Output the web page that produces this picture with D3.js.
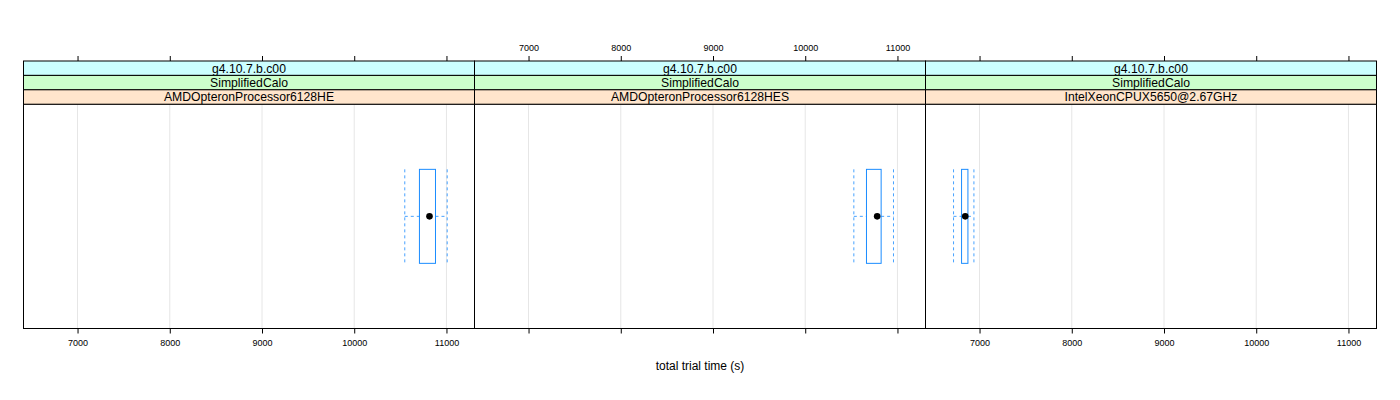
<!DOCTYPE html>
<html><head><meta charset="utf-8">
<script src="https://cdn.jsdelivr.net/npm/d3@7"></script>
<style>body{margin:0;background:#fff}svg{display:block;font-family:"Liberation Sans",Arial,sans-serif}</style>
</head><body>
<script>
const panels = ["AMDOpteronProcessor6128HE","AMDOpteronProcessor6128HES","IntelXeonCPUX5650@2.67GHz"];
const strip1 = ["g4.10.7.b.c00","g4.10.7.b.c00","g4.10.7.b.c00"];
const strip2 = ["SimplifiedCalo","SimplifiedCalo","SimplifiedCalo"];
const whiskerLo = [10548, 10527, 6718];
const boxLo = [10707, 10664, 6805];
const medians = [10816, 10780, 6845];
const boxHi = [10881, 10823, 6874];
const whiskerHi = [11008, 10957, 6939];
const tickValues = [7000, 8000, 9000, 10000, 11000];
const xDomain = [6414, 11304];
const xLabel = "total trial time (s)";

const W = 1400, H = 400;
const svg = d3.select("body").append("svg").attr("width", W).attr("height", H);
const left = 23.5, pw = 451, stripTop = 61, stripH = 14.4, panelBottom = 328.5;
const panelTop = stripTop + 3*stripH;
const stripColors = ["#ccffff","#ccffcc","#ffe5cc"];
const boxColor = "#1a8cff";

panels.forEach((p, i) => {
  const x0 = left + i*pw;
  const x = d3.scaleLinear().domain(xDomain).range([x0, x0 + pw]);
  const g = svg.append("g");
  g.selectAll("line.grid").data(tickValues).join("line")
    .attr("x1", d => x(d)).attr("x2", d => x(d))
    .attr("y1", panelTop).attr("y2", panelBottom)
    .attr("stroke", "#e6e6e6").attr("stroke-width", 1);
  const yc = (panelTop + panelBottom)/2, hh = 47;
  const dash = "3,3";
  g.append("line").attr("x1", x(whiskerLo[i])).attr("x2", x(boxLo[i])).attr("y1", yc).attr("y2", yc)
    .attr("stroke", boxColor).attr("stroke-dasharray", dash).attr("opacity", 0.8);
  g.append("line").attr("x1", x(boxHi[i])).attr("x2", x(whiskerHi[i])).attr("y1", yc).attr("y2", yc)
    .attr("stroke", boxColor).attr("stroke-dasharray", dash).attr("opacity", 0.8);
  [whiskerLo[i], whiskerHi[i]].forEach(v => {
    g.append("line").attr("x1", x(v)).attr("x2", x(v)).attr("y1", yc-hh).attr("y2", yc+hh)
      .attr("stroke", boxColor).attr("stroke-dasharray", dash).attr("opacity", 0.8);
  });
  g.append("rect").attr("x", x(boxLo[i])).attr("y", yc-hh)
    .attr("width", x(boxHi[i]) - x(boxLo[i])).attr("height", 2*hh)
    .attr("fill", "none").attr("stroke", boxColor).attr("stroke-width", 1);
  g.append("circle").attr("cx", x(medians[i])).attr("cy", yc).attr("r", 3.3).attr("fill", "#000");
  g.append("rect").attr("x", x0).attr("y", panelTop).attr("width", pw).attr("height", panelBottom - panelTop)
    .attr("fill", "none").attr("stroke", "#000").attr("stroke-width", 1);
  [strip1[i], strip2[i], p].forEach((t, k) => {
    const sy = stripTop + k*stripH;
    g.append("rect").attr("x", x0).attr("y", sy).attr("width", pw).attr("height", stripH)
      .attr("fill", stripColors[k]).attr("stroke", "#000").attr("stroke-width", 1);
    g.append("text").attr("x", x0 + pw/2).attr("y", sy + stripH/2).attr("dy", "0.36em")
      .attr("text-anchor", "middle").attr("font-size", 12.2).text(t);
  });
  const bottom = d3.axisBottom(x).tickValues(tickValues).tickSize(5).tickPadding(6).tickFormat(d3.format("d"));
  const top = d3.axisTop(x).tickValues(tickValues).tickSize(5).tickPadding(5).tickFormat(d3.format("d"));
  const gb = svg.append("g").attr("transform", `translate(0,${panelBottom})`).call(bottom);
  const gt = svg.append("g").attr("transform", `translate(0,${stripTop})`).call(top);
  [gb, gt].forEach(a => { a.select(".domain").remove(); a.selectAll("text").attr("font-size", 9).attr("font-family", "Liberation Sans, Arial, sans-serif").attr("fill", "#000"); a.selectAll("line").attr("stroke", "#000"); });
  if (i === 1) gb.selectAll("text").remove(); else gt.selectAll("text").remove();
});

svg.append("text").attr("x", left + 1.5*pw).attr("y", 370)
  .attr("text-anchor", "middle").attr("font-size", 12).text(xLabel);
</script>
</body></html>
